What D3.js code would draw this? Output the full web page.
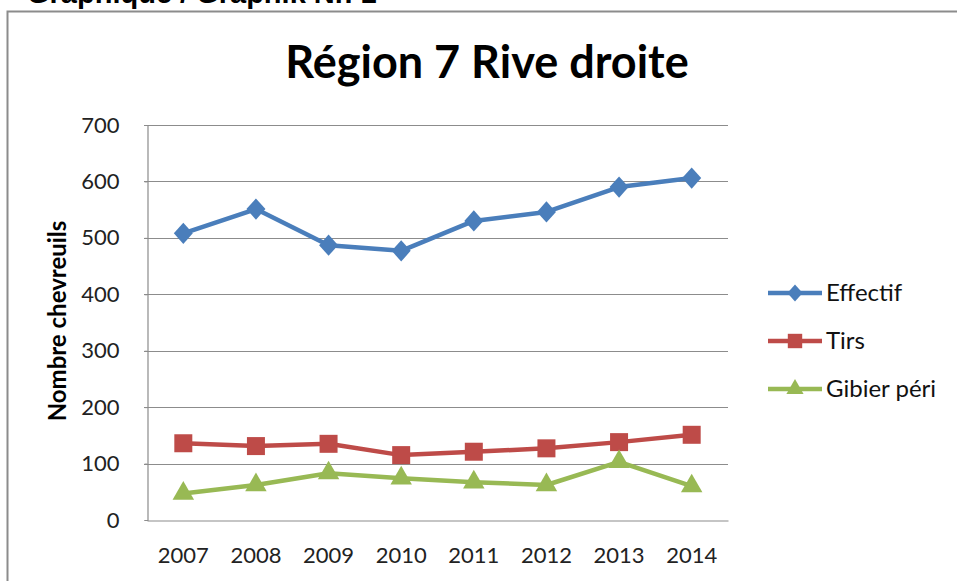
<!DOCTYPE html>
<html><head><meta charset="utf-8">
<script src="https://cdn.jsdelivr.net/npm/d3@7"></script>
<style>body{margin:0;background:#fff;}svg{display:block;}</style>
</head><body><svg id="c" width="957" height="581"></svg>
<script>
const years = ["2007","2008","2009","2010","2011","2012","2013","2014"];
const effectif = [508, 551, 487, 477, 530, 546, 590, 606];
const tirs = [136, 131, 135, 115, 121, 127, 138, 151];
const gibier = [47, 62, 83, 74, 67, 62, 103, 60];
const yTicks = [0, 100, 200, 300, 400, 500, 600, 700];
const seriesNames = ["Effectif", "Tirs", "Gibier péri"];
const seriesColors = ["#4A7EBB", "#BE4B48", "#98B954"];
const headerText = "Graphique / Graphik Nr. 1";
const titleText = "Région 7 Rive droite";
const yTitle = "Nombre chevreuils";

const svg = d3.select("#c");
const font = "Lato, 'Open Sans', sans-serif";
const L = 147, R = 728, T = 125, B = 520;

const x = d3.scaleBand().domain(years).range([L, R]);
const y = d3.scaleLinear().domain([0, 700]).range([B, T]);

// header
svg.append("text").attr("x", 27).attr("y", 3).text(headerText)
  .attr("font-family", "'Liberation Sans', Arial, sans-serif").attr("font-weight", "bold")
  .attr("font-size", 29).attr("fill", "#000");
// frame
svg.append("rect").attr("x", 7.5).attr("y", 11.5).attr("width", 1000).attr("height", 1000)
  .attr("fill", "none").attr("stroke", "#8c8c8c").attr("stroke-width", 2);

// title
svg.append("text").attr("x", 487).attr("y", 78).attr("text-anchor", "middle").text(titleText)
  .attr("font-family", font).attr("font-weight", "bold").attr("font-size", 45).attr("fill", "#000");

// gridlines
svg.append("g").selectAll("line").data(yTicks.filter(d => d > 0)).join("line")
  .attr("x1", L - 3).attr("x2", R).attr("y1", d => Math.round(y(d)) + 0.5).attr("y2", d => Math.round(y(d)) + 0.5)
  .attr("stroke", "#8c8c8c").attr("stroke-width", 1.2);

// y axis
const ya = svg.append("g").attr("transform", `translate(${L + 0.5},0)`)
  .call(d3.axisLeft(y).tickValues(yTicks).tickSize(3).tickPadding(25));
ya.select(".domain").attr("stroke", "#8c8c8c").attr("stroke-width", 1.2);
ya.selectAll(".tick line").attr("stroke", "#8c8c8c");
ya.selectAll("text").attr("font-family", font).attr("font-size", 22).attr("fill", "#222");

// x axis
const xa = svg.append("g").attr("transform", `translate(0,${B + 0.5})`)
  .call(d3.axisBottom(x).tickSize(0).tickPadding(27));
xa.select(".domain").attr("stroke", "#8c8c8c").attr("stroke-width", 1.2);
xa.selectAll("text").attr("font-family", font).attr("font-size", 22).attr("fill", "#222");

// y title
svg.append("text").attr("transform", "translate(66,321) rotate(-90)").attr("text-anchor", "middle")
  .text(yTitle).attr("font-family", font).attr("font-weight", "bold").attr("font-size", 24).attr("fill", "#000");

const data = [effectif, tirs, gibier];
const diamond = s => `M0,${-s * 0.56}L${s * 0.5},0L0,${s * 0.56}L${-s * 0.5},0Z`;
const markerPath = (i, k) => i === 0 ? diamond(19 * k) : d3.symbol().type(i === 1 ? d3.symbolSquare : d3.symbolTriangle).size((i === 1 ? 324 : 200) * k * k)();
const cx = d => x(d) + x.bandwidth() / 2;

data.forEach((vals, i) => {
  const g = svg.append("g");
  g.append("path").datum(vals)
    .attr("d", d3.line().x((d, j) => cx(years[j])).y(d => y(d)))
    .attr("fill", "none").attr("stroke", seriesColors[i]).attr("stroke-width", 4.5).attr("stroke-linejoin", "round");
  g.selectAll("path.m").data(vals).join("path").attr("class", "m")
    .attr("transform", (d, j) => `translate(${cx(years[j])},${y(d)})`)
    .attr("d", markerPath(i, 1))
    .attr("fill", seriesColors[i]);
});

// legend
const legY = [293, 341, 389];
seriesNames.forEach((n, i) => {
  const g = svg.append("g");
  g.append("line").attr("x1", 768).attr("x2", 822).attr("y1", legY[i]).attr("y2", legY[i])
    .attr("stroke", seriesColors[i]).attr("stroke-width", 4.5);
  g.append("path").attr("transform", `translate(795,${legY[i]})`)
    .attr("d", markerPath(i, 0.8)).attr("fill", seriesColors[i]);
  g.append("text").attr("x", 826).attr("y", legY[i] + 8).text(n)
    .attr("font-family", font).attr("font-size", 24).attr("fill", "#111");
});
</script></body></html>
